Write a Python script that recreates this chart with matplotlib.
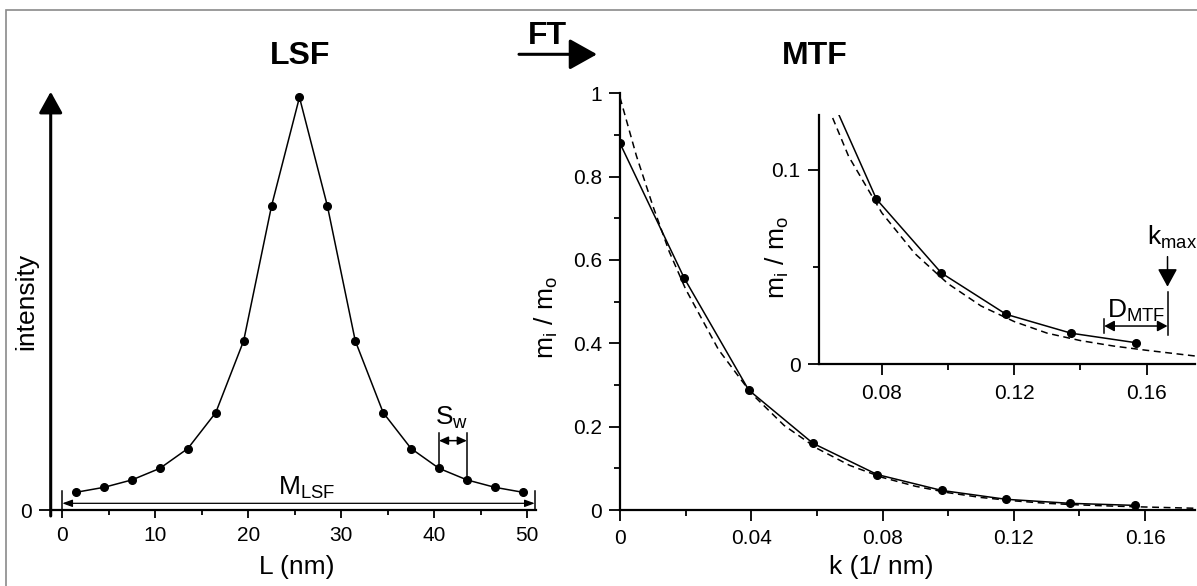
import matplotlib
matplotlib.use('Agg')
import matplotlib.pyplot as plt
from matplotlib.patches import Rectangle

plt.rcParams['font.family'] = ['Liberation Sans', 'DejaVu Sans']
plt.rcParams['mathtext.fontset'] = 'custom'
plt.rcParams['mathtext.rm'] = 'Liberation Sans'
plt.rcParams['mathtext.it'] = 'Liberation Sans:italic'
plt.rcParams['mathtext.bf'] = 'Liberation Sans:bold'

# ---------------- data ----------------
lsf_L = [1.5, 4.5, 7.5, 10.5, 13.5, 16.5, 19.5, 22.5, 25.5,
         28.5, 31.5, 34.5, 37.5, 40.5, 43.5, 46.5, 49.5]
lsf_I = [0.043, 0.055, 0.073, 0.101, 0.149, 0.236, 0.410, 0.737, 1.0,
         0.737, 0.410, 0.236, 0.149, 0.101, 0.073, 0.055, 0.043]
lsf_xticks = [0, 10, 20, 30, 40, 50]
lsf_xminor = [5, 15, 25, 35, 45]

mtf_k = [0.0, 0.0196, 0.0392, 0.0588, 0.0784, 0.098, 0.1176, 0.1372, 0.1568]
mtf_v = [0.880, 0.556, 0.288, 0.160, 0.085, 0.047, 0.0257, 0.016, 0.0111]

fit_k = [0.0, 0.005, 0.01, 0.015, 0.02, 0.03, 0.04, 0.05, 0.06, 0.07,
         0.08, 0.09, 0.10, 0.11, 0.12, 0.13, 0.14, 0.15, 0.16, 0.175]
fit_v = [0.99, 0.85, 0.73, 0.62, 0.53, 0.385, 0.28, 0.203, 0.148, 0.107,
         0.078, 0.057, 0.0415, 0.030, 0.022, 0.016, 0.0122, 0.0094, 0.0072, 0.0042]

mtf_xticks = [0, 0.04, 0.08, 0.12, 0.16]
mtf_xticklabels = ['0', '0.04', '0.08', '0.12', '0.16']
mtf_xminor = [0.02, 0.06, 0.10, 0.14]
mtf_yticks = [0, 0.2, 0.4, 0.6, 0.8, 1.0]
mtf_yticklabels = ['0', '0.2', '0.4', '0.6', '0.8', '1']
mtf_yminor = [0.1, 0.3, 0.5, 0.7, 0.9]

inset_xticks = [0.08, 0.12, 0.16]
inset_xticklabels = ['0.08', '0.12', '0.16']
inset_xminor = [0.10, 0.14]
inset_yticks = [0, 0.1]
inset_yticklabels = ['0', '0.1']
inset_yminor = [0.05]

# ---------------- layout helpers ----------------
W, H = 1197, 586
fig = plt.figure(figsize=(W / 100, H / 100), dpi=100)


def box(x0, y0, x1, y1):
    return [x0 / W, 1 - y1 / H, (x1 - x0) / W, (y1 - y0) / H]


def fp(x, y):
    return (x / W, 1 - y / H)


AXLW = 1.6
TICKFS = 15
LABFS = 19
TITFS = 23

# border
fig.patches.append(Rectangle(fp(6, 700), 2.0, (700 - 10) / H, fill=False,
                             edgecolor='#8a8a8a', lw=1.2,
                             transform=fig.transFigure, figure=fig))

axL = fig.add_axes(box(50.7, 91.7, 535.5, 510))
axM = fig.add_axes(box(620, 93.3, 1195, 510))
axI = fig.add_axes(box(818.5, 115, 1195, 364.3))

for ax in (axL, axM, axI):
    ax.set_facecolor('none')
    for s in ('top', 'right'):
        ax.spines[s].set_visible(False)
    for s in ('left', 'bottom'):
        ax.spines[s].set_linewidth(AXLW)
    ax.tick_params(which='major', direction='out', length=8, width=1.3,
                   labelsize=TICKFS, pad=5, color='k')
    ax.tick_params(which='minor', direction='out', length=4.3, width=1.3)

# ---------------- LSF panel ----------------
axL.spines['left'].set_visible(False)
axL.set_xlim(-1.247, 50.88)
axL.set_ylim(0, 1.0136)
axL.set_xticks(lsf_xticks)
axL.set_xticks(lsf_xminor, minor=True)
axL.set_yticks([0])
axL.set_yticklabels(['0'])
axL.tick_params(axis='x', which='major', length=5.8, pad=6)
axL.tick_params(axis='x', which='minor', length=3.6)
axL.tick_params(axis='y', which='major', length=8.6, pad=5)

axL.annotate('', xy=(-1.247, 1.0136), xytext=(-1.247, -0.0145),
             arrowprops=dict(arrowstyle='-|>,head_length=1.3,head_width=0.72',
                             mutation_scale=10, lw=2.2, color='k',
                             shrinkA=0, shrinkB=0),
             annotation_clip=False)

axL.plot(lsf_L, lsf_I, '-', color='k', lw=1.1, marker='o', ms=5.5,
         clip_on=False, zorder=3)

# M_LSF bracket
axL.annotate('', xy=(0, 0.0162), xytext=(50.8, 0.0162),
             arrowprops=dict(arrowstyle='<|-|>,head_length=0.6,head_width=0.22',
                             mutation_scale=10, lw=0.9, color='k',
                             shrinkA=0, shrinkB=0), annotation_clip=False)
axL.plot([0, 0], [0, 0.047], color='k', lw=1.1, clip_on=False)
axL.plot([50.8, 50.8], [0, 0.047], color='k', lw=1.1, clip_on=False)
axL.text(26.3, 0.038, r'M$_{\mathregular{LSF}}$', ha='center', va='baseline',
         fontsize=LABFS)

# S_w
axL.plot([40.5, 40.5], [0.101, 0.187], color='k', lw=1.1)
axL.plot([43.5, 43.5], [0.073, 0.187], color='k', lw=1.1)
axL.annotate('', xy=(40.5, 0.168), xytext=(43.5, 0.168),
             arrowprops=dict(arrowstyle='<|-|>,head_length=0.55,head_width=0.25',
                             mutation_scale=10, lw=1.1, color='k',
                             shrinkA=0, shrinkB=0))
axL.text(41.9, 0.206, r'S$_{\mathregular{w}}$', ha='center', va='baseline',
         fontsize=LABFS)

# ---------------- MTF main panel ----------------
axM.set_xlim(0, 0.1752)
axM.set_ylim(0, 1.0)
axM.set_xticks(mtf_xticks)
axM.set_xticklabels(mtf_xticklabels)
axM.set_xticks(mtf_xminor, minor=True)
axM.set_yticks(mtf_yticks)
axM.set_yticklabels(mtf_yticklabels)
axM.set_yticks(mtf_yminor, minor=True)
axM.tick_params(axis='x', which='major', pad=6)

axM.plot(fit_k, fit_v, color='k', lw=1.1, ls=(0, (4.5, 3)))
axM.plot(mtf_k, mtf_v, '-', color='k', lw=1.1, marker='o', ms=5.5)

# ---------------- inset ----------------
axI.set_xlim(0.0609, 0.1746)
axI.set_ylim(0, 0.1283)
axI.set_xticks(inset_xticks)
axI.set_xticklabels(inset_xticklabels)
axI.set_xticks(inset_xminor, minor=True)
axI.set_yticks(inset_yticks)
axI.set_yticklabels(inset_yticklabels)
axI.set_yticks(inset_yminor, minor=True)
axI.tick_params(axis='x', which='major', pad=6)

axI.plot(fit_k, fit_v, color='k', lw=1.1, ls=(0, (4.5, 3)))
axI.plot(mtf_k, mtf_v, '-', color='k', lw=1.1, marker='o', ms=5.5)

# k_max marker
axI.annotate('', xy=(0.1663, 0.0399), xytext=(0.1663, 0.0554),
             arrowprops=dict(arrowstyle='-|>,head_length=1.1,head_width=0.6',
                             mutation_scale=10, lw=1.1, color='k',
                             shrinkA=0, shrinkB=0))
axI.plot([0.1663, 0.1663], [0.0151, 0.0374], color='k', lw=1.1)
axI.text(0.1676, 0.0614, r'k$_{\mathregular{max}}$', ha='center', va='baseline',
         fontsize=LABFS)

# D_MTF
axI.annotate('', xy=(0.1472, 0.0197), xytext=(0.1663, 0.0197),
             arrowprops=dict(arrowstyle='<|-|>,head_length=0.6,head_width=0.32',
                             mutation_scale=10, lw=1.1, color='k',
                             shrinkA=0, shrinkB=0))
axI.plot([0.1472, 0.1472], [0.0161, 0.0233], color='k', lw=1.1)
axI.text(0.1570, 0.0238, r'D$_{\mathregular{MTF}}$', ha='center', va='baseline',
         fontsize=LABFS)

# ---------------- figure texts ----------------
fig.text(*fp(300.5, 56), 'LSF', ha='center', va='center', fontsize=TITFS,
         fontweight='bold')
fig.text(*fp(815, 56.5), 'MTF', ha='center', va='center', fontsize=TITFS,
         fontweight='bold')
fig.text(*fp(547, 36), 'FT', ha='center', va='center', fontsize=TITFS,
         fontweight='bold')
fig.add_artist(matplotlib.patches.FancyArrowPatch(
    fp(519, 54.3), fp(597, 54.3), transform=fig.transFigure,
    arrowstyle='-|>,head_length=1.7,head_width=0.95', mutation_scale=10,
    lw=2.2, color='k', shrinkA=0, shrinkB=0))

fig.text(*fp(26, 301), 'intensity', rotation=90, ha='center', va='center',
         fontsize=LABFS)
fig.text(*fp(297, 567), 'L (nm)', ha='center', va='center', fontsize=LABFS)
fig.text(*fp(546, 318), r'm$_{\mathregular{i}}$ / m$_{\mathregular{o}}$',
         rotation=90, ha='center', va='center', fontsize=LABFS)
fig.text(*fp(881.7, 567), 'k (1/ nm)', ha='center', va='center', fontsize=LABFS)
fig.text(*fp(777, 258), r'm$_{\mathregular{i}}$ / m$_{\mathregular{o}}$',
         rotation=90, ha='center', va='center', fontsize=LABFS)

fig.savefig('out.png', dpi=100)
